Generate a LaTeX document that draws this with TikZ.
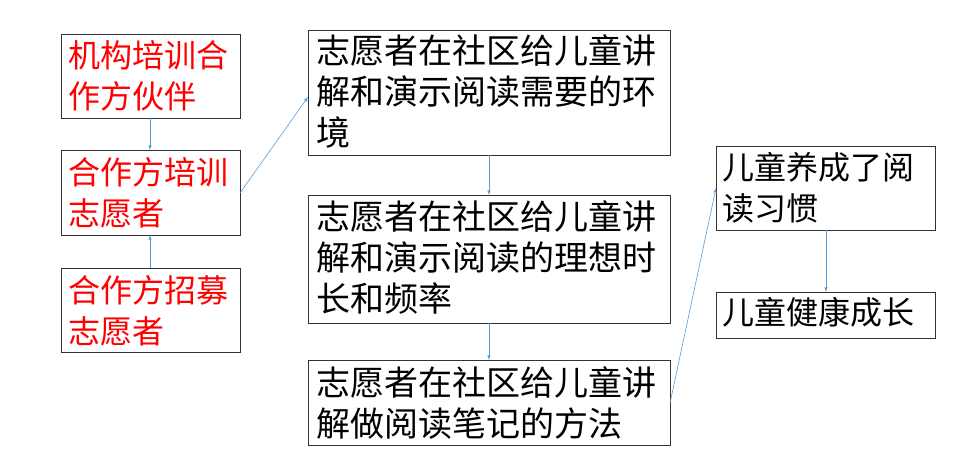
\documentclass[tikz,border=0pt]{standalone}
\usepackage{fontspec}
\setmainfont{Noto Sans CJK SC}
\definecolor{arr}{RGB}{91,155,213}
\begin{document}
\begin{tikzpicture}[x=1pt,y=-1pt,
 box/.style={draw=black!80,line width=0.8pt},
 txt/.style={anchor=north west,inner sep=0,align=left,font=\fontsize{32}{41}\selectfont},
 wtxt/.style={txt,font=\fontsize{34}{41}\selectfont},
 ar/.style={draw=arr,line width=0.6pt,-latex}]
\useasboundingbox (0,0) rectangle (967,469);
\draw[box] (61,34) rectangle (240,118); \coordinate (A) at (150,118);
\node[txt,text=red] at (68,40) {机构培训合\\作方伙伴};
\draw[box] (61,150) rectangle (240,235);
\coordinate (Bt) at (150,150); \coordinate (Bb) at (150,235); \coordinate (Br) at (240,193);
\node[txt,text=red] at (68,157) {合作方培训\\志愿者};
\draw[box] (61,268) rectangle (240,352); \coordinate (C) at (150,268);
\node[txt,text=red] at (68,275) {合作方招募\\志愿者};
\draw[box] (308,30) rectangle (670,155);
\coordinate (Dl) at (308,97); \coordinate (Db) at (489,155);
\node[wtxt] at (316,34) {志愿者在社区给儿童讲\\解和演示阅读需要的环\\境};
\draw[box] (308,195) rectangle (670,323);
\coordinate (Et) at (489,195); \coordinate (Eb) at (489,323);
\node[wtxt] at (316,200) {志愿者在社区给儿童讲\\解和演示阅读的理想时\\长和频率};
\draw[box] (308,360) rectangle (670,445);
\coordinate (Ft) at (489,360); \coordinate (Fr) at (670,403);
\node[wtxt] at (316,366) {志愿者在社区给儿童讲\\解做阅读笔记的方法};
\draw[box] (716,146) rectangle (935,230);
\coordinate (Gl) at (716,188); \coordinate (Gb) at (826,230);
\node[txt] at (722,152) {儿童养成了阅\\读习惯};
\draw[box] (716,292) rectangle (935,338); \coordinate (H) at (826,292);
\node[txt] at (722,297) {儿童健康成长};
\draw[ar] (A) -- (Bt);
\draw[ar] (C) -- (Bb);
\draw[ar] (Br) -- (Dl);
\draw[ar] (Db) -- (Et);
\draw[ar] (Eb) -- (Ft);
\draw[ar] (Fr) -- (Gl);
\draw[ar] (Gb) -- (H);
\end{tikzpicture}
\end{document}
